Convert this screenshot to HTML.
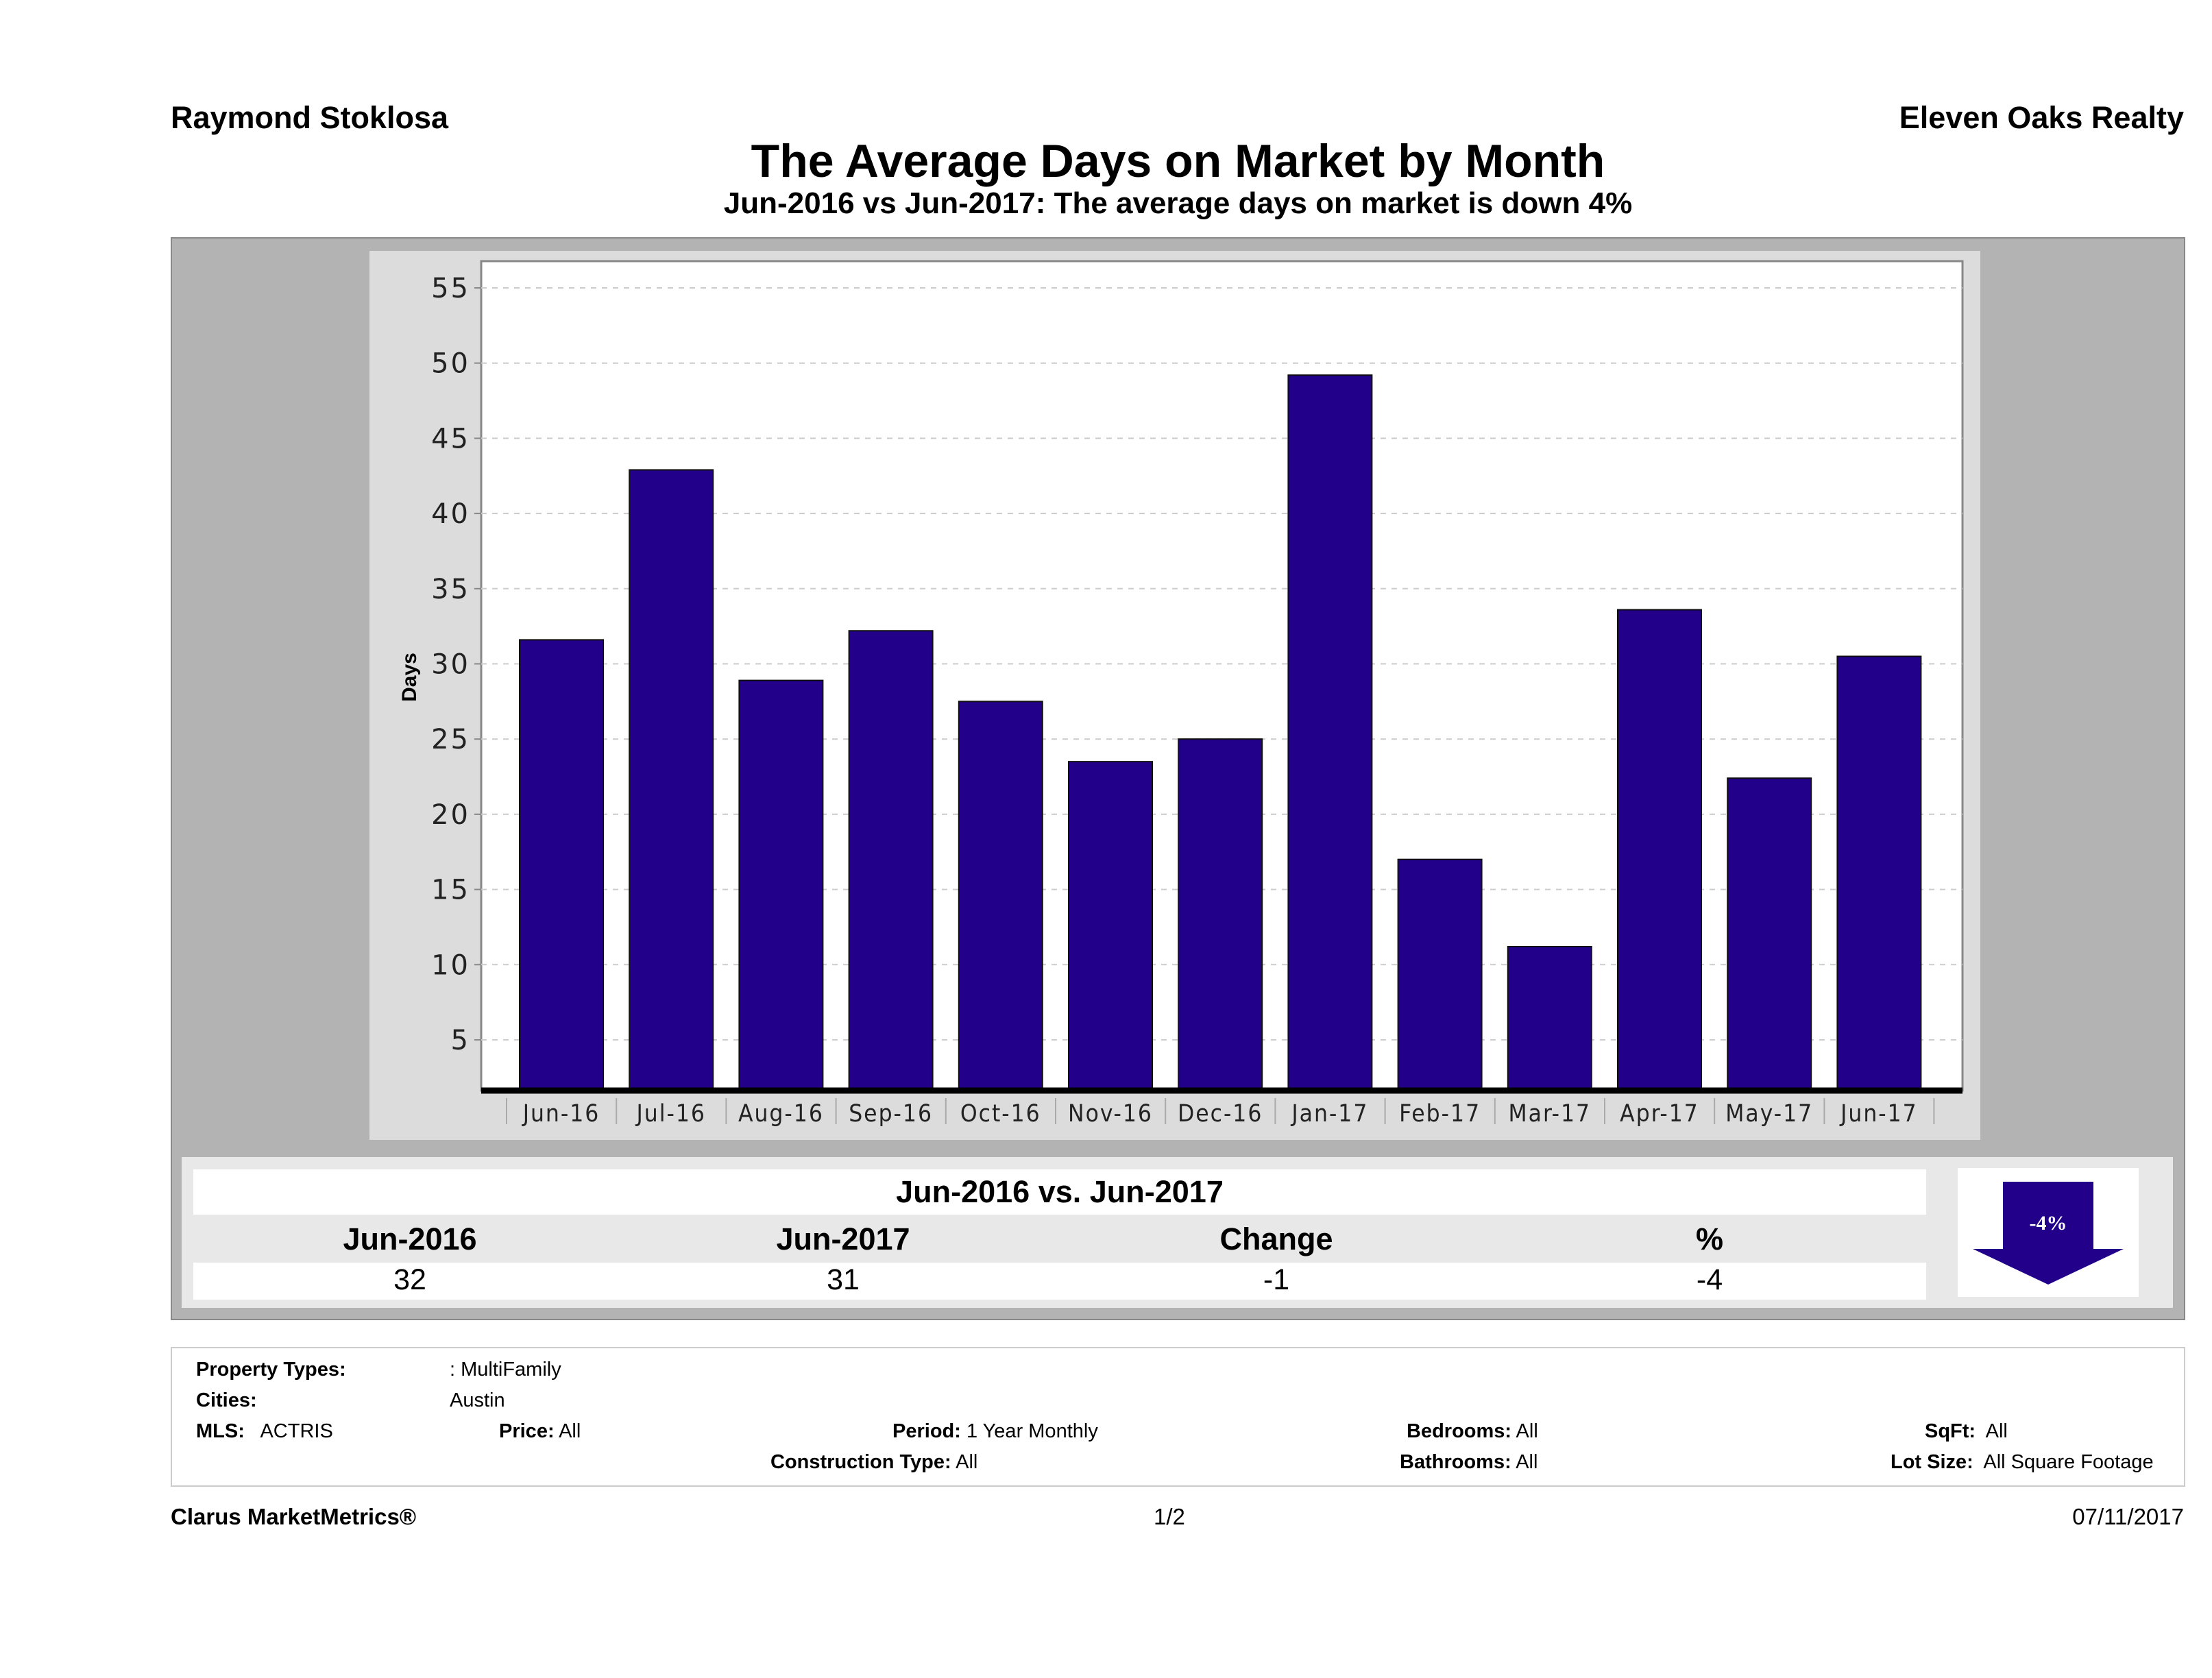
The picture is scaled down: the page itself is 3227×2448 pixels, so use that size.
<!DOCTYPE html>
<html><head><meta charset="utf-8">
<style>
body{margin:0;width:3227px;height:2448px;background:#fff;position:relative;overflow:hidden;font-family:"Liberation Sans",sans-serif;color:#000}
.a{position:absolute;white-space:nowrap}
.b{font-weight:bold}
.ft{font-size:29px}
</style></head><body>
<div class="a b" style="left:249px;top:146px;font-size:45px">Raymond Stoklosa</div>
<div class="a b" style="right:41px;top:146px;font-size:45px">Eleven Oaks Realty</div>
<div class="a b" style="left:249px;width:2939px;text-align:center;top:196px;font-size:68px">The Average Days on Market by Month</div>
<div class="a b" style="left:249px;width:2939px;text-align:center;top:272px;font-size:44px">Jun-2016 vs Jun-2017: The average days on market is down 4%</div>

<div class="a" style="left:249px;top:346px;width:2935px;height:1576px;background:#b3b3b3;border:2px solid #888"></div>

<svg class="a" style="left:0;top:0" width="3227" height="1700">
<g id="g"></g>
</svg>

<div class="a" style="left:265px;top:1688px;width:2905px;height:220px;background:#e8e8e8"></div>
<div class="a b" style="left:282px;top:1706px;width:2528px;height:66px;background:#fff;text-align:center;font-size:45px;line-height:66px">Jun-2016 vs. Jun-2017</div>
<div class="a" style="left:282px;top:1842px;width:2528px;height:54px;background:#fff"></div>
<div class="a b" style="left:398px;width:400px;text-align:center;top:1782px;font-size:45px">Jun-2016</div>
<div class="a b" style="left:1030px;width:400px;text-align:center;top:1782px;font-size:45px">Jun-2017</div>
<div class="a b" style="left:1662px;width:400px;text-align:center;top:1782px;font-size:45px">Change</div>
<div class="a b" style="left:2294px;width:400px;text-align:center;top:1782px;font-size:45px">%</div>
<div class="a" style="left:398px;width:400px;text-align:center;top:1843px;font-size:43px">32</div>
<div class="a" style="left:1030px;width:400px;text-align:center;top:1843px;font-size:43px">31</div>
<div class="a" style="left:1662px;width:400px;text-align:center;top:1843px;font-size:43px">-1</div>
<div class="a" style="left:2294px;width:400px;text-align:center;top:1843px;font-size:43px">-4</div>
<div class="a" style="left:2856px;top:1704px;width:264px;height:188px;background:#fff"></div>
<svg class="a" style="left:2856px;top:1704px" width="264" height="188">
<polygon points="66,20 198,20 198,118 242,118 132,170 22,118 66,118" fill="#22008a"/>
<text x="132" y="90" text-anchor="middle" fill="#fff" font-size="30" font-weight="bold" font-family="Liberation Serif,serif">-4%</text>
</svg>

<div class="a" style="left:249px;top:1965px;width:2935px;height:200px;border:2px solid #ccc"></div>
<div class="a ft b" style="left:286px;top:1982px">Property Types:</div>
<div class="a ft" style="left:656px;top:1982px">: MultiFamily</div>
<div class="a ft b" style="left:286px;top:2027px">Cities:</div>
<div class="a ft" style="left:656px;top:2027px">Austin</div>
<div class="a ft" style="left:286px;top:2072px"><b>MLS:</b>&nbsp;&nbsp; ACTRIS</div>
<div class="a ft" style="left:728px;top:2072px"><b>Price:</b> All</div>
<div class="a ft" style="left:1302px;top:2072px"><b>Period:</b> 1 Year Monthly</div>
<div class="a ft" style="left:1124px;top:2117px"><b>Construction Type:</b> All</div>
<div class="a ft" style="left:2052px;top:2072px"><b>Bedrooms:</b> All</div>
<div class="a ft" style="left:2042px;top:2117px"><b>Bathrooms:</b> All</div>
<div class="a ft" style="left:2808px;top:2072px"><b>SqFt:</b>&nbsp; All</div>
<div class="a ft" style="left:2758px;top:2117px"><b>Lot Size:</b>&nbsp; All Square Footage</div>

<div class="a b" style="left:249px;top:2194px;font-size:33px">Clarus MarketMetrics®</div>
<div class="a" style="left:1683px;top:2194px;font-size:33px">1/2</div>
<div class="a" style="right:41px;top:2194px;font-size:33px">07/11/2017</div>

<script>
const categories=["Jun-16","Jul-16","Aug-16","Sep-16","Oct-16","Nov-16","Dec-16","Jan-17","Feb-17","Mar-17","Apr-17","May-17","Jun-17"];
const values=[31.6,42.9,28.9,32.2,27.5,23.5,25.0,49.2,17.0,11.2,33.6,22.4,30.5];
const yTicks=[5,10,15,20,25,30,35,40,45,50,55];
const NS="http://www.w3.org/2000/svg";
const g=document.getElementById('g');
const PL=702,PR=2863,PT=381,PB=1591,YMIN=1.6;
function y(v){return 420+(55-v)*21.94;}
function xc(i){return 819+i*160.2;}
function mk(t,a){const e=document.createElementNS(NS,t);for(const k in a)e.setAttribute(k,a[k]);g.appendChild(e);return e;}
let e=mk('rect',{x:539,y:366,width:2350,height:1297,fill:'#dcdcdc'});


e=mk('rect',{x:PL,y:PT,width:PR-PL,height:PB-PT,fill:'#fff',stroke:'#888','stroke-width':3});


yTicks.forEach(v=>{
  const yy=y(v);
  let l=mk('line',{x1:PL,x2:PR,y1:yy,y2:yy,stroke:'#ccc','stroke-width':2,'stroke-dasharray':'8,8'});
  
  
  mk('line',{x1:PL-10,x2:PL,y1:yy,y2:yy,stroke:'#888','stroke-width':2});
  let t=mk('text',{x:PL-16,y:yy+14,'text-anchor':'end','font-size':40,'letter-spacing':3,'font-family':'DejaVu Sans,sans-serif',fill:'#222'});
  t.textContent=v;
  
  
});
values.forEach((v,i)=>{
  let r=mk('rect',{x:xc(i)-61,y:y(v),width:122,height:PB-y(v),fill:'#22008a',stroke:'#111','stroke-width':2});
  
  
  let t=mk('text',{x:xc(i),y:1636,'text-anchor':'middle','font-size':35,'letter-spacing':2,'font-family':'DejaVu Sans Condensed,DejaVu Sans,sans-serif',fill:'#222'});
  t.textContent=categories[i];
  
  
  mk('line',{x1:xc(i)-80,x2:xc(i)-80,y1:1602,y2:1640,stroke:'#aaa','stroke-width':2});
});
mk('line',{x1:xc(12)+80,x2:xc(12)+80,y1:1602,y2:1640,stroke:'#aaa','stroke-width':2});
e=mk('line',{x1:PL,x2:PR,y1:PB,y2:PB,stroke:'#000','stroke-width':9});


e=mk('text',{x:0,y:0,transform:'translate(607,988) rotate(-90)','text-anchor':'middle','font-size':30,'font-weight':'bold','font-family':'Liberation Sans,sans-serif'});
e.textContent='Days';


</script>
</body></html>
